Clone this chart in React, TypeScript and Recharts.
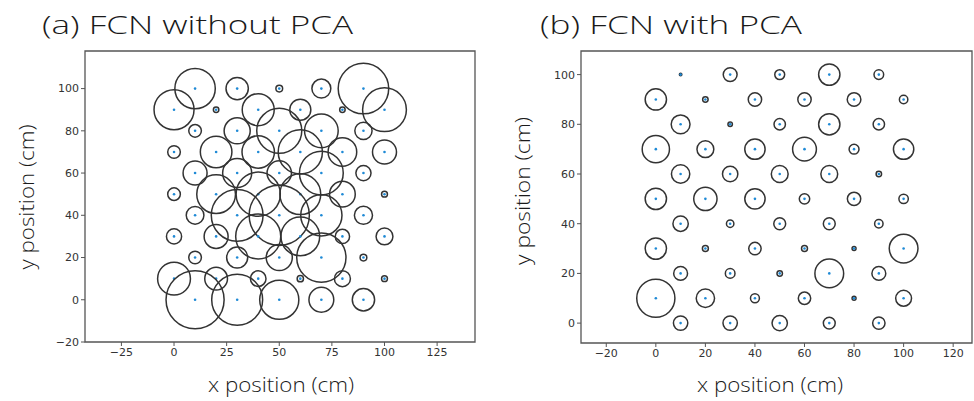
import { ReferenceArea, Scatter, ScatterChart, XAxis, YAxis } from "recharts";

// lattice rows, top to bottom; rows at 100/80/60/... use X_ODD, the others X_EVEN
const ROW_Y = [100, 90, 80, 70, 60, 50, 40, 30, 20, 10, 0];
const X_ODD = [10, 30, 50, 70, 90];
const X_EVEN = [0, 20, 40, 60, 80, 100];

// circle radius (cm) at every lattice point, one row per ROW_Y entry
const RADII_A = [
  [9.6, 5.3, 1.6, 4.5, 12],
  [9.5, 1.3, 7.6, 5, 1.3, 10.4],
  [3, 6.2, 10.7, 8, 4.1],
  [3, 7.5, 7.7, 10.5, 6.8, 5.7],
  [5.7, 6.9, 5.8, 10.4, 3.6],
  [3, 9.2, 10.5, 9.7, 6.1, 1.4],
  [4.2, 12.3, 14.3, 9.8, 4.3],
  [3.6, 5.7, 10.7, 9.2, 3.4, 4],
  [3, 5, 6.2, 11.7, 1.6],
  [7.8, 5.4, 3.7, 1.5, 3.8, 1.4],
  [13.8, 12.1, 9.3, 5.9, 5.3],
];

const RADII_B = [
  [0.5, 2.8, 2, 4.3, 1.95],
  [4.3, 1.1, 2.7, 2.7, 2.75, 1.7],
  [3.8, 0.9, 2.3, 4.3, 2.3],
  [5.5, 3.4, 4.1, 4.8, 2, 4.1],
  [3.7, 3.1, 3.4, 3.4, 1.1],
  [4.3, 4.7, 4.1, 2.1, 2.7, 1.9],
  [3.1, 1.5, 2.4, 2.4, 1.7],
  [4.3, 1.2, 2.5, 1.2, 0.8, 5.8],
  [2.8, 1.95, 1.1, 5.8, 2.8],
  [7.7, 3.7, 1.8, 2.5, 0.8, 3.2],
  [2.9, 2.9, 3.1, 2.4, 2.5],
];

const TICKS_A_X = [-25, 0, 25, 50, 75, 100, 125];
const TICKS_A_Y = [-20, 0, 20, 40, 60, 80, 100];
const TICKS_B_X = [-20, 0, 20, 40, 60, 80, 100, 120];
const TICKS_B_Y = [0, 20, 40, 60, 80, 100];

type Pt = { x: number; y: number; r: number };

function latticePoints(radii: number[][]): Pt[] {
  return ROW_Y.flatMap((y, i) =>
    (i % 2 === 0 ? X_ODD : X_EVEN).map((x, j) => ({ x, y, r: radii[i][j] }))
  );
}

const fmt = (v: number) => (v < 0 ? `\u2212${-v}` : `${v}`);
const tickStyle = { fontSize: 11, fill: "#333", fontFamily: "DejaVu Sans" };
const AXIS_GREY = "#555";

type PanelProps = {
  data: Pt[];
  left: number;
  width: number;
  margin: { top: number; right: number; bottom: number; left: number };
  xDomain: [number, number];
  yDomain: [number, number];
  xTicks: number[];
  yTicks: number[];
};

const CHART_H = 380;
const Y_AXIS_W = 40;

function Panel({ data, left, width, margin, xDomain, yDomain, xTicks, yTicks }: PanelProps) {
  // circles are in data units; both axes share the same cm-to-px ratio
  const plotW = width - margin.left - margin.right - Y_AXIS_W;
  const pxPerCm = plotW / (xDomain[1] - xDomain[0]);

  const renderCircle = (props: any) => {
    const { cx, cy, payload } = props;
    return (
      <g>
        <circle cx={cx} cy={cy} r={payload.r * pxPerCm} fill="none" stroke="#333" strokeWidth={1.5} />
        <circle cx={cx} cy={cy} r={1.3} fill="#1f8ad6" />
      </g>
    );
  };

  return (
    <div style={{ position: "absolute", left, top: 0 }}>
      <ScatterChart width={width} height={CHART_H} margin={margin}>
        <XAxis
          type="number"
          dataKey="x"
          domain={xDomain}
          ticks={xTicks}
          tickFormatter={fmt}
          allowDataOverflow
          axisLine={false}
          tickLine={{ stroke: AXIS_GREY }}
          tickSize={4}
          tick={tickStyle}
          height={30}
        />
        <YAxis
          type="number"
          dataKey="y"
          domain={yDomain}
          ticks={yTicks}
          tickFormatter={fmt}
          allowDataOverflow
          axisLine={false}
          tickLine={{ stroke: AXIS_GREY }}
          tickSize={4}
          tick={tickStyle}
          width={Y_AXIS_W}
        />
        <ReferenceArea
          x1={xDomain[0]}
          x2={xDomain[1]}
          y1={yDomain[0]}
          y2={yDomain[1]}
          fill="none"
          stroke={AXIS_GREY}
          strokeWidth={1.3}
        />
        <Scatter data={data} shape={renderCircle} isAnimationActive={false} />
      </ScatterChart>
    </div>
  );
}

const labelFont = { fontFamily: "Open Sans", fontWeight: 300, fill: "#1a1a1a" };

export default function App() {
  return (
    <div style={{ position: "absolute", left: 0, top: 0, width: 974, height: 401, background: "#fff", overflow: "hidden" }}>
      <Panel
        data={latticePoints(RADII_A)}
        left={0}
        width={490}
        margin={{ top: 51, right: 15, bottom: 8, left: 45 }}
        xDomain={[-42.3, 143]}
        yDomain={[-20, 117.8]}
        xTicks={TICKS_A_X}
        yTicks={TICKS_A_Y}
      />
      <Panel
        data={latticePoints(RADII_B)}
        left={490}
        width={484}
        margin={{ top: 51, right: 2, bottom: 7, left: 51 }}
        xDomain={[-30.2, 127.6]}
        yDomain={[-8, 109.5]}
        xTicks={TICKS_B_X}
        yTicks={TICKS_B_Y}
      />
      <svg width={974} height={401} style={{ position: "absolute", left: 0, top: 0, pointerEvents: "none" }}>
        <text x={42} y={34} fontSize={26} textLength={311} lengthAdjust="spacingAndGlyphs" {...labelFont}>
          (a) FCN without PCA
        </text>
        <text x={540} y={34} fontSize={26} textLength={262} lengthAdjust="spacingAndGlyphs" {...labelFont}>
          (b) FCN with PCA
        </text>
        <text x={281} y={392} fontSize={20} textAnchor="middle" textLength={146} lengthAdjust="spacingAndGlyphs" {...labelFont}>
          x position (cm)
        </text>
        <text x={770} y={392} fontSize={20} textAnchor="middle" textLength={146} lengthAdjust="spacingAndGlyphs" {...labelFont}>
          x position (cm)
        </text>
        <text transform="translate(34,197) rotate(-90)" fontSize={20} textAnchor="middle" textLength={145} lengthAdjust="spacingAndGlyphs" {...labelFont}>
          y position (cm)
        </text>
        <text transform="translate(530,191) rotate(-90)" fontSize={20} textAnchor="middle" textLength={148} lengthAdjust="spacingAndGlyphs" {...labelFont}>
          y position (cm)
        </text>
      </svg>
    </div>
  );
}
